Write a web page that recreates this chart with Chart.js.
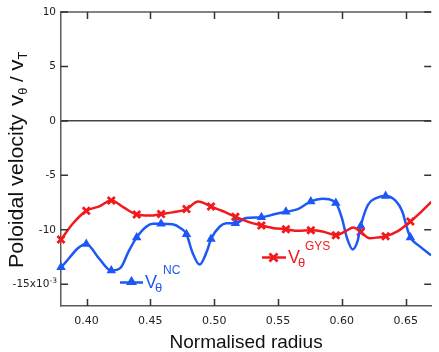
<!DOCTYPE html>
<html><head><meta charset="utf-8">
<script src="https://cdn.jsdelivr.net/npm/chart.js@4.4.0/dist/chart.umd.min.js"></script>
<style>html,body{margin:0;padding:0;background:#fff;overflow:hidden}#wrap{width:439px;height:352px;position:relative}</style>
</head><body><div id="wrap"><canvas id="c" width="439" height="352"></canvas></div>
<script>
// ---- data ----
const radius = [0.380,0.3998,0.4194,0.4393,0.4584,0.4783,0.4975,0.5166,0.5370,0.5562,0.5757,0.5953,0.6148,0.6343,0.6537];
const vNC    = [-13.45,-11.3,-13.75,-10.7,-9.45,-10.4,-10.85,-9.4,-8.85,-8.35,-7.4,-7.55,-9.65,-6.9,-10.7];
const vGYS   = [-10.9,-8.26,-7.32,-8.6,-8.56,-8.1,-7.86,-8.8,-9.6,-9.95,-10.05,-10.5,-10.2,-10.6,-9.24];
// curve samples between the markers
const ncLineR  = [0.4096,0.4266,0.4329,0.447,0.452,0.4674,0.4737,0.4827,0.4886,0.4942,0.5044,0.5095,0.525,0.5478,0.5656,0.5847,0.600,0.604,0.6085,0.6123,0.6205,0.6269,0.6422,0.6473,0.6511,0.6613,0.670];
const ncLineV  = [-12.6,-13.5,-12.0,-9.7,-9.45,-9.5,-9.85,-12.0,-13.2,-12.0,-9.7,-9.4,-8.92,-8.55,-8.1,-7.15,-8.9,-10.75,-11.8,-11.05,-7.7,-7.1,-7.35,-8.3,-9.85,-11.55,-12.35];
const gysLineR = [0.3895,0.41,0.429,0.4495,0.4674,0.4874,0.507,0.5273,0.5465,0.5656,0.5848,0.6027,0.609,0.6218,0.6282,0.6435,0.6613,0.670];
const gysLineV = [-9.4,-7.85,-7.95,-8.7,-8.4,-7.4,-8.3,-9.3,-9.85,-10.1,-10.15,-10.15,-9.8,-10.77,-10.7,-10.15,-8.45,-7.45];
const xTicks = [0.40,0.45,0.50,0.55,0.60,0.65];
const yTicks = [10,5,0,-5,-10,-15];

const BLUE = '#1d58f4', RED = '#f2191c';
function pts(r, v){ return r.map((x,i)=>({x, y:v[i]})); }
function curve(r1,v1,r2,v2){ return pts(r1,v1).concat(pts(r2,v2)).sort((a,b)=>a.x-b.x); }

const decor = {
  id:'decor',
  afterDraw(chart){
    const {ctx, chartArea:a, scales:{x,y}} = chart;
    ctx.save();
    // top axis line
    ctx.strokeStyle='#5a5a5a'; ctx.lineWidth=1.5;
    ctx.beginPath(); ctx.moveTo(a.left, a.top); ctx.lineTo(a.right, a.top); ctx.stroke();
    // inward ticks
    ctx.strokeStyle='#333'; ctx.lineWidth=1.5;
    ctx.beginPath();
    xTicks.forEach(v=>{const p=Math.round(x.getPixelForValue(v))+0.5;
      ctx.moveTo(p,a.bottom); ctx.lineTo(p,a.bottom-7); ctx.moveTo(p,a.top); ctx.lineTo(p,a.top+7);});
    yTicks.forEach(v=>{const p=y.getPixelForValue(v);
      ctx.moveTo(a.left,p); ctx.lineTo(a.left+7,p); ctx.moveTo(a.right,p); ctx.lineTo(a.right-7,p);});
    ctx.stroke();
    // exponent of the -15 tick label
    ctx.fillStyle='#222'; ctx.font='7.5px "DejaVu Sans"'; ctx.textAlign='left'; ctx.textBaseline='alphabetic';
    ctx.fillText('-3', 49.5, y.getPixelForValue(-15)-1.5);
    // x title
    ctx.font='19px "Liberation Sans"'; ctx.textAlign='center'; ctx.fillStyle='#111';
    ctx.fillText('Normalised radius', (a.left+a.right)/2, 348);
    // y title (rotated)
    ctx.save();
    ctx.translate(23, 268); ctx.rotate(-Math.PI/2); ctx.scale(1.07,1);
    ctx.textAlign='left';
    let cx = 0;
    const part=(t,size,dy)=>{ctx.font=size+'px "Liberation Sans"'; ctx.fillText(t,cx,dy); cx+=ctx.measureText(t).width;};
    part('Poloidal velocity',20,0);
    cx += 8;
    part('v',21,0); part('\u03b8',12,4); part(' / ',19,0); part('v',21,0); part('T',12,4);
    ctx.restore();
    // legend NC
    ctx.strokeStyle=BLUE; ctx.fillStyle=BLUE; ctx.lineWidth=2.5;
    ctx.beginPath(); ctx.moveTo(120,282.5); ctx.lineTo(143,282.5); ctx.stroke();
    ctx.beginPath(); ctx.moveTo(131.5,276); ctx.lineTo(137,285); ctx.lineTo(126,285); ctx.closePath(); ctx.fill();
    ctx.textAlign='left';
    ctx.font='18px "Liberation Sans"'; ctx.fillText('V',145,288);
    ctx.font='13px "Liberation Sans"'; ctx.fillText('\u03b8',155,292);
    ctx.font='12px "Liberation Sans"'; ctx.fillText('NC',163,274);
    // legend GYS
    ctx.strokeStyle=RED; ctx.fillStyle=RED;
    ctx.beginPath(); ctx.moveTo(262,257.5); ctx.lineTo(286,257.5); ctx.stroke();
    ctx.lineWidth=2.8;
    ctx.beginPath(); ctx.moveTo(269.5,253.5); ctx.lineTo(277.5,261.5); ctx.moveTo(277.5,253.5); ctx.lineTo(269.5,261.5); ctx.stroke();
    ctx.font='18px "Liberation Sans"'; ctx.fillText('V',288,263);
    ctx.font='13px "Liberation Sans"'; ctx.fillText('\u03b8',298,267);
    ctx.font='12px "Liberation Sans"'; ctx.fillText('GYS',305,250);
    ctx.restore();
  }
};

new Chart(document.getElementById('c'), {
  type:'line',
  data:{datasets:[
    {label:'GYS line', data:curve(radius,vGYS,gysLineR,gysLineV), borderColor:RED, borderWidth:2.5, pointRadius:0, cubicInterpolationMode:'monotone', fill:false},
    {label:'NC line', data:curve(radius,vNC,ncLineR,ncLineV), borderColor:BLUE, borderWidth:2.5, pointRadius:0, cubicInterpolationMode:'monotone', fill:false},
    {label:'GYS', data:pts(radius,vGYS), showLine:false, pointStyle:'crossRot', pointRadius:5, pointBorderWidth:2.8, borderColor:RED, backgroundColor:RED, clip:10},
    {label:'NC', data:pts(radius,vNC), showLine:false, pointStyle:'triangle', pointRadius:5.5, pointBorderWidth:0, borderColor:BLUE, backgroundColor:BLUE, clip:10}
  ]},
  options:{
    responsive:false, animation:false,
    layout:{padding:{top:12,right:0,left:0,bottom:0}},
    plugins:{legend:{display:false}, tooltip:{enabled:false}},
    scales:{
      x:{type:'linear', min:0.38, max:0.67,
        afterBuildTicks:s=>{s.ticks=xTicks.map(v=>({value:v}));},
        afterFit:s=>{s.height=46;},
        ticks:{callback:v=>v.toFixed(2), font:{family:'DejaVu Sans', size:11}, color:'#222', padding:9, maxRotation:0, autoSkip:false},
        grid:{display:false, drawTicks:false},
        border:{display:true, color:'#5a5a5a', width:1.5}},
      y:{type:'linear', min:-17, max:10,
        afterBuildTicks:s=>{s.ticks=yTicks.map(v=>({value:v}));},
        afterFit:s=>{s.width=61;},
        ticks:{callback:v=>v===-15?'-15x10  ':String(v), font:{family:'DejaVu Sans', size:10.5}, color:'#222', padding:5, autoSkip:false},
        grid:{drawTicks:false, color:c=>c.tick && c.tick.value===0?'#444':'rgba(0,0,0,0)', lineWidth:1.5},
        border:{display:true, color:'#5a5a5a', width:1.5}}
    }
  },
  plugins:[decor]
});
</script></body></html>
